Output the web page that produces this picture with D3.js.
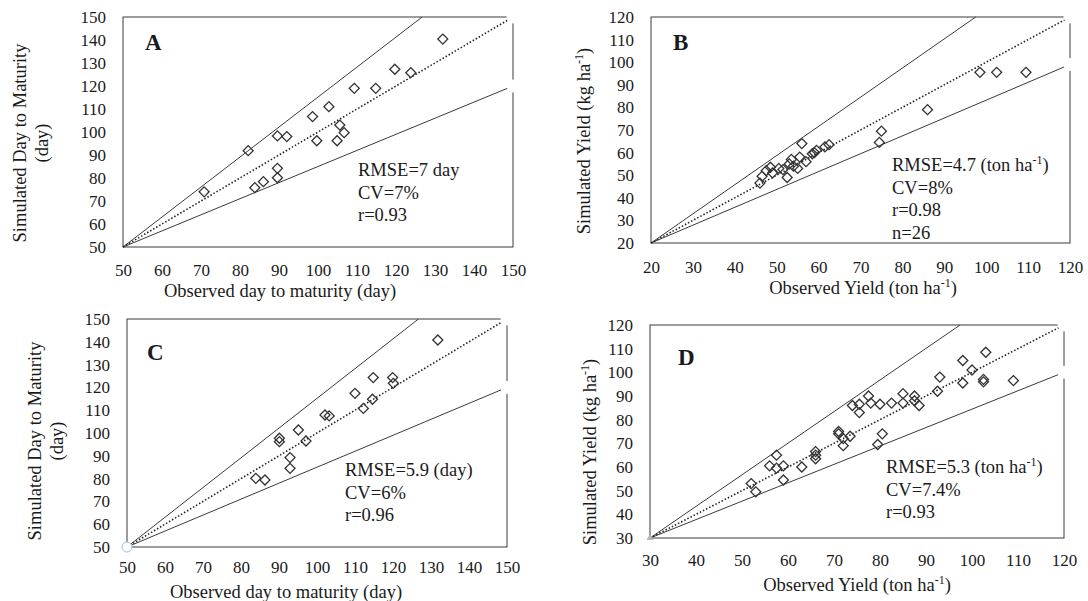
<!DOCTYPE html>
<html>
<head>
<meta charset="utf-8">
<title>Simulated vs observed - maturity and yield</title>
<script src="https://cdn.jsdelivr.net/npm/d3@7"></script>
<style>
  body { margin: 0; background: #fff; }
  text { font-family: "Liberation Serif", "Times New Roman", serif; fill: #1a1a1a; }
</style>
</head>
<body>
<div id="chart"></div>
<script>
// ---- data ----
// A: day to maturity
var obsA = [70.8, 82.1, 89.6, 92.0, 83.8, 86.0, 89.6, 89.6, 98.6, 102.8, 99.7, 105.6, 106.7, 104.9, 109.3, 114.8, 119.7, 123.8, 132.0]
var simA = [74.0, 91.9, 98.3, 98.0, 75.8, 78.4, 84.2, 80.1, 106.7, 111.0, 96.2, 103.0, 99.7, 96.2, 119.0, 119.0, 127.3, 125.8, 140.4]

// B: yield
var obsB = [46, 46.5, 47.5, 48.5, 49, 50.5, 51.5, 52.5, 53, 53.5, 54, 55, 55.5, 56, 57, 58.5, 59, 59.5, 61.5, 62.5, 74.5, 75, 86, 98.5, 102.5, 109.5]
var simB = [46.5, 49.5, 52, 53.5, 51, 53, 52.5, 49, 55, 57, 54, 53, 58, 64, 56, 59.5, 60, 61, 62.5, 63.5, 64.5, 69.5, 79, 95.5, 95.5, 95.5]

// C: day to maturity
var obsC = [131.8, 114.8, 119.9, 120.1, 110.0, 114.6, 112.2, 102.1, 103.2, 95.1, 97.1, 90.1, 90.1, 92.9, 92.9, 83.9, 86.3]
var simC = [140.8, 124.3, 124.3, 121.8, 117.4, 114.8, 110.8, 107.9, 107.5, 101.3, 96.5, 97.7, 96.2, 89.2, 84.5, 80.1, 79.4]

// D: yield
var obsD = [52, 53, 56, 57.5, 57.5, 59, 59, 63, 66, 66, 66, 71, 71, 72, 73.5, 72, 74, 75.5, 75.5, 77.5, 78, 80, 80.5, 79.5, 82.5, 85, 85, 87.5, 87.5, 88.5, 93, 92.5, 98, 98, 100, 103, 102.5, 102.5, 109]
var simD = [53, 49.5, 60.5, 65, 59.5, 60.5, 54.5, 60, 66.5, 65, 63.5, 75, 74, 72, 73, 69, 86, 86.5, 83, 90, 87, 86.5, 74, 69.5, 87, 91, 87, 90, 88, 86, 98, 92, 105, 95.5, 101, 108.5, 97, 96, 96.5]

// tick labels
var ticksDay = [50, 60, 70, 80, 90, 100, 110, 120, 130, 140, 150]
var ticksYieldB = [20, 30, 40, 50, 60, 70, 80, 90, 100, 110, 120]
var ticksYieldD = [30, 40, 50, 60, 70, 80, 90, 100, 110, 120]

// reference lines (1:1 and the two bounding lines)
var unityA = [[50, 50], [150, 150]], upperA = [[50, 50], [126.7, 150]], lowerA = [[50, 50], [150, 120]]
var unityB = [[20, 20], [120, 120]], upperB = [[20, 20], [97.5, 120]], lowerB = [[20, 20], [120, 99]]
var unityC = [[50, 50], [150, 150]], upperC = [[50, 50], [126.7, 150]], lowerC = [[50, 50], [150, 120]]
var unityD = [[30, 30], [120, 120]], upperD = [[30, 30], [97.4, 120]], lowerD = [[30, 30], [120, 100]]

// statistics text
var statsA = ["RMSE=7 day", "CV=7%", "r=0.93"]
var statsB = ["RMSE=4.7 (ton ha^{-1})", "CV=8%", "r=0.98", "n=26"]
var statsC = ["RMSE=5.9 (day)", "CV=6%", "r=0.96"]
var statsD = ["RMSE=5.3 (ton ha^{-1})", "CV=7.4%", "r=0.93"]

var svg = d3.select("#chart").append("svg")
    .attr("width", 1088)
    .attr("height", 601)

// writes a string with ^{..} superscripts into a text element
function richText(el, str) {
    var parts = str.split(/\^\{([^}]*)\}/)
    var raised = false
    parts.forEach(function (p, i) {
        if (p === "") return
        var t = el.append("tspan").text(p)
        if (i % 2 === 1) {
            t.attr("font-size", "0.65em").attr("dy", -7)
            raised = true
        } else if (raised) {
            t.attr("dy", 7)
            raised = false
        }
    })
}

function panel(cfg) {
    var x = d3.scaleLinear().domain(cfg.xDomain).range([cfg.left, cfg.right])
    var y = d3.scaleLinear().domain(cfg.yDomain).range([cfg.bottom, cfg.top])
    var g = svg.append("g")

    // plot frame
    g.append("rect")
        .attr("x", cfg.left).attr("y", cfg.top)
        .attr("width", cfg.right - cfg.left)
        .attr("height", cfg.bottom - cfg.top)
        .attr("fill", "none")
        .attr("stroke", "#3a3a3a")
        .attr("stroke-width", 1)

    var line = d3.line().x(function (d) { return x(d[0]) }).y(function (d) { return y(d[1]) })

    g.append("path").datum(cfg.upper).attr("d", line)
        .attr("fill", "none").attr("stroke", "#3a3a3a").attr("stroke-width", 1)
    g.append("path").datum(cfg.lower).attr("d", line)
        .attr("fill", "none").attr("stroke", "#3a3a3a").attr("stroke-width", 1)
    g.append("path").datum(cfg.unity).attr("d", line)
        .attr("fill", "none").attr("stroke", "#222").attr("stroke-width", 1.6)
        .attr("stroke-dasharray", "1.5,2")

    // hidden (white) end markers of the line series, they cut the frame
    g.selectAll(".endmark")
        .data([cfg.unity[1], cfg.lower[1]])
        .enter().append("circle")
        .attr("class", "endmark")
        .attr("cx", function (d) { return x(d[0]) })
        .attr("cy", function (d) { return y(d[1]) })
        .attr("r", 6.5)
        .attr("fill", "#fff")

    // observed vs simulated points, hollow diamonds
    var diamond = d3.symbol().type(d3.symbolSquare).size(50)
    g.selectAll(".pt")
        .data(d3.zip(cfg.obs, cfg.sim))
        .enter().append("path")
        .attr("class", "pt")
        .attr("transform", function (d) { return "translate(" + x(d[0]) + "," + y(d[1]) + ") rotate(45)" })
        .attr("d", diamond)
        .attr("fill", "none")
        .attr("stroke", "#333")
        .attr("stroke-width", 1.3)

    // origin marker (Excel leftovers in C and D)
    if (cfg.origin === "circle") {
        g.append("circle")
            .attr("cx", x(cfg.xDomain[0])).attr("cy", y(cfg.yDomain[0]))
            .attr("r", 5).attr("fill", "#fff").attr("stroke", "#9dc3e6")
    } else if (cfg.origin === "triangle") {
        g.append("path")
            .attr("transform", "translate(" + x(cfg.xDomain[0]) + "," + y(cfg.yDomain[0]) + ")")
            .attr("d", d3.symbol().type(d3.symbolTriangle).size(22))
            .attr("fill", "#b5b5b5")
    }

    // axes, no tick marks, frame already drawn
    var xa = g.append("g")
        .attr("transform", "translate(0," + cfg.bottom + ")")
        .call(d3.axisBottom(x).tickValues(cfg.xTicks).tickSize(0).tickPadding(cfg.xPad))
    var ya = g.append("g")
        .attr("transform", "translate(" + cfg.left + ",0)")
        .call(d3.axisLeft(y).tickValues(cfg.yTicks).tickSize(0).tickPadding(17))
    ;[xa, ya].forEach(function (a) {
        a.select(".domain").remove()
        a.attr("font-family", null).attr("font-size", 17)
    })

    // panel letter
    g.append("text")
        .attr("x", cfg.letterX).attr("y", cfg.letterY)
        .attr("font-size", 23).attr("font-weight", "bold")
        .text(cfg.letter)

    // stats block
    cfg.stats.forEach(function (s, i) {
        var t = g.append("text")
            .attr("x", cfg.statsX).attr("y", cfg.statsY + i * 22.7)
            .attr("font-size", 18.5)
        richText(t, s)
    })

    // x title
    var xt = g.append("text")
        .attr("x", cfg.xTitleX).attr("y", cfg.xTitleY)
        .attr("text-anchor", "middle").attr("font-size", 18.5)
    richText(xt, cfg.xTitle)

    // y title, one or two lines
    cfg.yTitle.forEach(function (s, i) {
        var t = g.append("text")
            .attr("transform", "translate(" + cfg.yTitleX[i] + "," + cfg.yTitleY + ") rotate(-90)")
            .attr("text-anchor", "middle").attr("font-size", 18.5)
        richText(t, s)
    })
}

panel({
    obs: obsA, sim: simA, unity: unityA, upper: upperA, lower: lowerA,
    xDomain: [50, 150], yDomain: [50, 150], xTicks: ticksDay, yTicks: ticksDay,
    left: 123, right: 513, top: 17, bottom: 247, xPad: 17,
    letter: "A", letterX: 145, letterY: 50,
    stats: statsA, statsX: 358, statsY: 176,
    xTitle: "Observed day to maturity (day)", xTitleX: 280, xTitleY: 297,
    yTitle: ["Simulated Day to Maturity", "(day)"], yTitleX: [26, 48], yTitleY: 143
})

panel({
    obs: obsB, sim: simB, unity: unityB, upper: upperB, lower: lowerB,
    xDomain: [20, 120], yDomain: [20, 120], xTicks: ticksYieldB, yTicks: ticksYieldB,
    left: 651, right: 1070, top: 17, bottom: 243, xPad: 18,
    letter: "B", letterX: 673, letterY: 50,
    stats: statsB, statsX: 892, statsY: 171,
    xTitle: "Observed Yield (ton ha^{-1})", xTitleX: 863, xTitleY: 294,
    yTitle: ["Simulated Yield (kg ha^{-1})"], yTitleX: [590], yTitleY: 141
})

panel({
    obs: obsC, sim: simC, unity: unityC, upper: upperC, lower: lowerC,
    xDomain: [50, 150], yDomain: [50, 150], xTicks: ticksDay, yTicks: ticksDay,
    left: 127, right: 507, top: 319, bottom: 547, xPad: 14, origin: "circle",
    letter: "C", letterX: 147, letterY: 360,
    stats: statsC, statsX: 345, statsY: 476,
    xTitle: "Observed day to maturity (day)", xTitleX: 286, xTitleY: 598,
    yTitle: ["Simulated Day to Maturity", "(day)"], yTitleX: [41, 63], yTitleY: 441
})

panel({
    obs: obsD, sim: simD, unity: unityD, upper: upperD, lower: lowerD,
    xDomain: [30, 120], yDomain: [30, 120], xTicks: ticksYieldD, yTicks: ticksYieldD,
    left: 650, right: 1064, top: 325, bottom: 538, xPad: 16, origin: "triangle",
    letter: "D", letterX: 678, letterY: 365,
    stats: statsD, statsX: 886, statsY: 473,
    xTitle: "Observed Yield (ton ha^{-1})", xTitleX: 857, xTitleY: 591,
    yTitle: ["Simulated Yield (kg ha^{-1})"], yTitleX: [596], yTitleY: 452
})
</script>
</body>
</html>
